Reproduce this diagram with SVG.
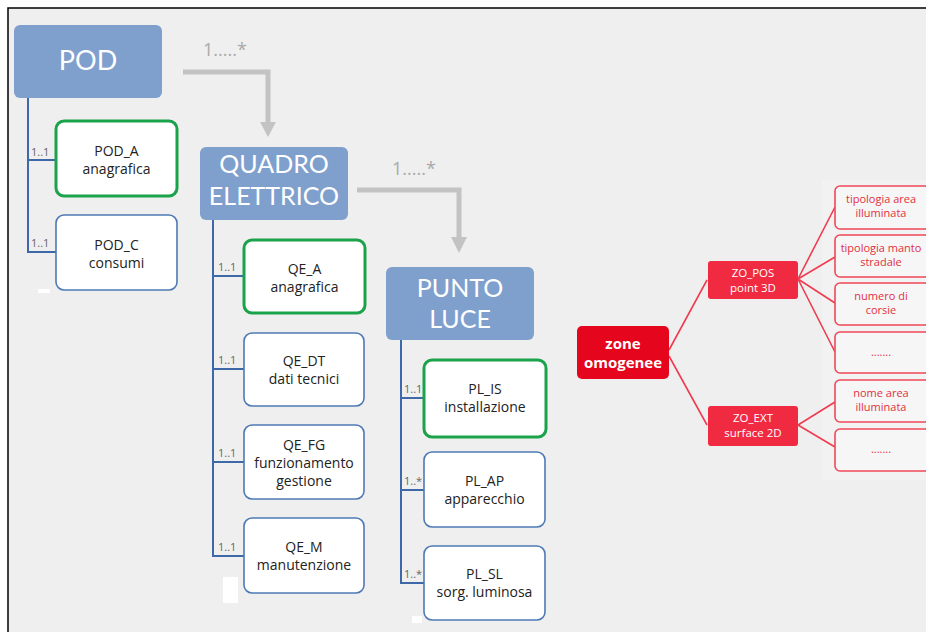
<svg xmlns="http://www.w3.org/2000/svg" width="926" height="632" viewBox="0 0 926 632">
<defs>
<style>
.hdr{fill:#7f9fcd;}
.hdrt{fill:#fff;font-family:Lato,"Liberation Sans",sans-serif;text-anchor:middle;}
.ch{fill:#fff;stroke:#4f79b5;stroke-width:1.6;}
.chg{fill:#fff;stroke:#1ba34b;stroke-width:3;}
.cht{fill:#222;font-family:"Open Sans","Liberation Sans",sans-serif;font-size:14px;text-anchor:middle;}
.tree{fill:none;stroke:#3f68a8;stroke-width:2;}
.mult{fill:#666;font-family:"Open Sans","Liberation Sans",sans-serif;font-size:11px;}
.big{fill:none;stroke:#c3c3c3;stroke-width:5;}
.bigl{fill:#aaa;font-family:"Open Sans","Liberation Sans",sans-serif;font-size:18px;}
.red1{fill:#e5051c;}
.red2{fill:#f02a40;}
.leaf{fill:#f6f6f6;stroke:#f0485a;stroke-width:1.6;}
.leaft{fill:#e2303f;font-family:"Open Sans","Liberation Sans",sans-serif;font-size:11px;text-anchor:middle;}
.rl{fill:none;stroke:#f03c50;stroke-width:1.6;}
.wt{fill:#fff;font-family:"Open Sans","Liberation Sans",sans-serif;text-anchor:middle;}
</style>
</defs>
<rect x="0" y="0" width="926" height="632" fill="#fff"/>
<rect x="8" y="8" width="918" height="624" fill="#efefef"/>
<path d="M8,632 V8 H926" fill="none" stroke="#000" stroke-width="1.5"/>
<rect x="822" y="180" width="104" height="300" fill="#f2f2f2"/>
<rect x="38" y="289" width="12" height="4" fill="#fff"/>
<rect x="223" y="577" width="15" height="26" fill="#fff"/>
<rect x="412" y="616" width="10" height="7" fill="#fff"/>

<g id="connectors">
<path class="big" d="M183,72 H268 V124"/>
<path d="M260,122 L276,122 L268,137 Z" fill="#c3c3c3"/>
<path class="big" d="M357,190 H459 V239"/>
<path d="M451,237 L467,237 L459,253 Z" fill="#c3c3c3"/>
<text class="bigl" x="203" y="56">1.....*</text>
<text class="bigl" x="392" y="175">1.....*</text>

<path class="tree" d="M28,98 V252 H56 M28,160 H56"/>
<text class="mult" x="31" y="156">1..1</text>
<text class="mult" x="31" y="247">1..1</text>

<path class="tree" d="M213,220 V556 H244 M213,276 H244 M213,369 H244 M213,462 H244"/>
<text class="mult" x="218" y="271">1..1</text>
<text class="mult" x="218" y="364">1..1</text>
<text class="mult" x="218" y="457">1..1</text>
<text class="mult" x="218" y="551">1..1</text>

<path class="tree" d="M401,340 V583 H424 M401,398 H424 M401,490 H424"/>
<text class="mult" x="404" y="393">1..1</text>
<text class="mult" x="404" y="485">1..*</text>
<text class="mult" x="404" y="578">1..*</text>

<path class="rl" d="M669,350 L707,280 M669,356 L707,425"/>
<path class="rl" d="M798,279 L835,207 M798,279 L835,257 M798,279 L835,303 M798,279 L835,352"/>
<path class="rl" d="M798,425 L835,402 M798,425 L835,447"/>
</g>

<g id="pod">
<rect class="hdr" x="14" y="25" width="148" height="73" rx="6"/>
<text class="hdrt" x="88" y="70" font-size="27">POD</text>
</g>
<g id="pod_a">
<rect class="chg" x="56" y="121" width="121" height="75" rx="8"/>
<text class="cht" x="116.5" y="156">POD_A</text>
<text class="cht" x="116.5" y="174">anagrafica</text>
</g>
<g id="pod_c">
<rect class="ch" x="56" y="215" width="121" height="75" rx="8"/>
<text class="cht" x="116.5" y="250">POD_C</text>
<text class="cht" x="116.5" y="268">consumi</text>
</g>

<g id="qe">
<rect class="hdr" x="200" y="147" width="148" height="73" rx="6"/>
<text class="hdrt" x="274" y="173" font-size="25">QUADRO</text>
<text class="hdrt" x="274" y="205" font-size="25">ELETTRICO</text>
</g>
<g id="qe_a">
<rect class="chg" x="244" y="240" width="121" height="73" rx="8"/>
<text class="cht" x="304.5" y="274">QE_A</text>
<text class="cht" x="304.5" y="292">anagrafica</text>
</g>
<g id="qe_dt">
<rect class="ch" x="244" y="333" width="120" height="73" rx="8"/>
<text class="cht" x="304" y="366">QE_DT</text>
<text class="cht" x="304" y="384">dati tecnici</text>
</g>
<g id="qe_fg">
<rect class="ch" x="244" y="425" width="120" height="74" rx="8"/>
<text class="cht" x="304" y="450">QE_FG</text>
<text class="cht" x="304" y="468">funzionamento</text>
<text class="cht" x="304" y="486">gestione</text>
</g>
<g id="qe_m">
<rect class="ch" x="244" y="518" width="120" height="75" rx="8"/>
<text class="cht" x="304" y="552">QE_M</text>
<text class="cht" x="304" y="570">manutenzione</text>
</g>

<g id="pl">
<rect class="hdr" x="386" y="267" width="148" height="73" rx="6"/>
<text class="hdrt" x="460" y="297" font-size="25">PUNTO</text>
<text class="hdrt" x="460" y="328" font-size="25">LUCE</text>
</g>
<g id="pl_is">
<rect class="chg" x="424" y="360" width="122" height="77" rx="8"/>
<text class="cht" x="485" y="394">PL_IS</text>
<text class="cht" x="485" y="412">installazione</text>
</g>
<g id="pl_ap">
<rect class="ch" x="424" y="452" width="121" height="75" rx="8"/>
<text class="cht" x="484.5" y="486">PL_AP</text>
<text class="cht" x="484.5" y="504">apparecchio</text>
</g>
<g id="pl_sl">
<rect class="ch" x="424" y="546" width="121" height="74" rx="8"/>
<text class="cht" x="484.5" y="579">PL_SL</text>
<text class="cht" x="484.5" y="597">sorg. luminosa</text>
</g>

<g id="zone">
<rect class="red1" x="577" y="326" width="92" height="53" rx="5"/>
<text class="wt" x="623" y="349" font-size="15" font-weight="bold">zone</text>
<text class="wt" x="623" y="368" font-size="15" font-weight="bold">omogenee</text>
</g>
<g id="zo_pos">
<rect class="red2" x="708" y="261" width="90" height="38" rx="3"/>
<text class="wt" x="753" y="277" font-size="11.5">ZO_POS</text>
<text class="wt" x="753" y="292" font-size="11.5">point 3D</text>
</g>
<g id="zo_ext">
<rect class="red2" x="708" y="406" width="90" height="40" rx="3"/>
<text class="wt" x="753" y="422" font-size="11.5">ZO_EXT</text>
<text class="wt" x="753" y="437" font-size="11.5">surface 2D</text>
</g>
<g id="leaf1">
<rect class="leaf" x="835" y="186" width="95" height="43" rx="5"/>
<text class="leaft" x="881" y="203">tipologia area</text>
<text class="leaft" x="881" y="217">illuminata</text>
</g>
<g id="leaf2">
<rect class="leaf" x="835" y="235" width="95" height="42" rx="5"/>
<text class="leaft" x="881" y="252">tipologia manto</text>
<text class="leaft" x="881" y="266">stradale</text>
</g>
<g id="leaf3">
<rect class="leaf" x="835" y="283" width="95" height="42" rx="5"/>
<text class="leaft" x="881" y="300">numero di</text>
<text class="leaft" x="881" y="314">corsie</text>
</g>
<g id="leaf4">
<rect class="leaf" x="835" y="332" width="95" height="41" rx="5"/>
<text class="leaft" x="881" y="356">.......</text>
</g>
<g id="leaf5">
<rect class="leaf" x="835" y="380" width="95" height="42" rx="5"/>
<text class="leaft" x="881" y="397">nome area</text>
<text class="leaft" x="881" y="411">illuminata</text>
</g>
<g id="leaf6">
<rect class="leaf" x="835" y="429" width="95" height="42" rx="5"/>
<text class="leaft" x="881" y="453">.......</text>
</g>
</svg>
